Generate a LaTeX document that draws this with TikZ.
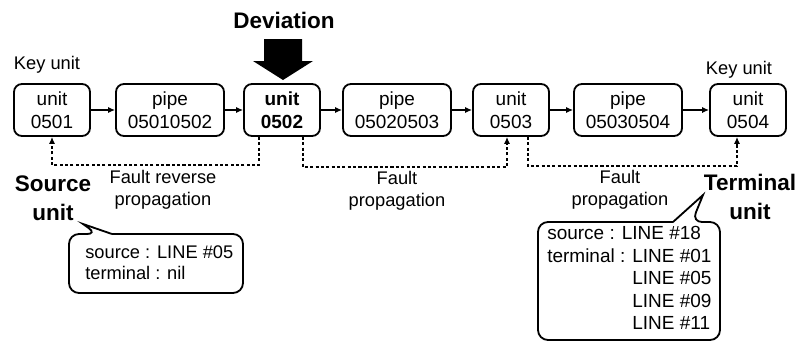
\documentclass[tikz,border=0pt]{standalone}
\usepackage{fontspec}
\setmainfont{Liberation Sans}
\usetikzlibrary{arrows.meta}
\usetikzlibrary{positioning}

\begin{document}
\begin{tikzpicture}[x=0.025cm, y=-0.025cm,
        unitbox/.style={draw=black, line width=1.3pt, rounded corners=0.2cm, minimum width=1.9cm, minimum height=1.3cm, align=center, inner sep=1pt, font=\fontsize{13.5}{16}\selectfont},
        pipebox/.style={unitbox, minimum width=2.7cm},
        flow/.style={draw=black, line width=1.1pt, -{Latex[length=5pt,width=4.5pt]}},
        fault/.style={draw=black, line width=1pt, dash pattern=on 2.2pt off 1.6pt, -{Latex[length=5pt,width=4.5pt]}},
        lab/.style={align=center, font=\fontsize{13}{16}\selectfont},
        boldlab/.style={align=center, font=\fontsize{16}{20.5}\selectfont\bfseries},
        note/.style={draw=black, line width=1.3pt, rounded corners=0.25cm},
        notetext/.style={anchor=north west, align=left, inner sep=0pt, font=\fontsize{13.5}{16}\selectfont}]
        \useasboundingbox (0,0) rectangle (800,344);

        %units and pipes
        \node[unitbox] (u0501) at (52,110) {unit\\0501};
        \node[pipebox] (p0501) at (170,110) {pipe\\05010502};
        \node[unitbox, font=\fontsize{13.5}{16}\selectfont\bfseries] (u0502) at (282,110) {unit\\0502};
        \node[pipebox] (p0502) at (397,110) {pipe\\05020503};
        \node[unitbox] (u0503) at (511,110) {unit\\0503};
        \node[pipebox] (p0503) at (628,110) {pipe\\05030504};
        \node[unitbox] (u0504) at (748,110) {unit\\0504};

        \draw[flow] (u0501) -- (p0501);
        \draw[flow] (p0501) -- (u0502);
        \draw[flow] (u0502) -- (p0502);
        \draw[flow] (p0502) -- (u0503);
        \draw[flow] (u0503) -- (p0503);
        \draw[flow] (p0503) -- (u0504);

        %labels
        \node[lab] (key1) at (47,65) {Key unit};
        \node[lab] (key2) at (739,70) {Key unit};
        \node[boldlab] (dev) at (284,20) {Deviation};
        \fill (264,39) -- (302,39) -- (302,61) -- (313,61) -- (283,80) -- (253,61) -- (264,61) -- cycle;

        %fault paths
        \coordinate (r1) at (259,165);
        \coordinate (f1) at (303,167);
        \coordinate (f2) at (528,166);
        \draw[fault] (u0502.south -| r1) -- (r1) -| (u0501.south);
        \draw[fault] (u0502.south -| f1) -- (f1) -| ([xshift=-0.1cm]u0503.south);
        \draw[fault] (u0503.south -| f2) -- (f2) -| ([xshift=-0.275cm]u0504.south);

        \node[lab] (rev) at (163,190) {Fault reverse\\propagation};
        \node[lab] (fp1) at (397,191) {Fault\\propagation};
        \node[lab] (fp2) at (620,190) {Fault\\propagation};
        \node[boldlab] (src) at (53,198) {Source\\unit};
        \node[boldlab] (term) at (750,197) {Terminal\\unit};

        %callouts
        \coordinate (srctip) at (83,224);
        \coordinate (termtip) at (703,195);
        \draw[note] (112,234) -- (243,234) -- (243,293) -- (69,293) -- (69,234) -- (97,234) [sharp corners] -- (srctip) -- (112,234);
        \draw[note] (673,222) -- (538,222) -- (538,340) -- (720,340) -- (720,222) -- (692,222) [sharp corners] -- (termtip) -- (673,222);
        \node[notetext, font=\fontsize{13}{15}\selectfont] (srcnote) at (85,245) {source : LINE \#05\\terminal : nil};
        \node[notetext] (termnote) at (547,226) {source : LINE \#18\\terminal : LINE \#01\\\phantom{terminal : }LINE \#05\\\phantom{terminal : }LINE \#09\\\phantom{terminal : }LINE \#11};
    \end{tikzpicture}
\end{document}
